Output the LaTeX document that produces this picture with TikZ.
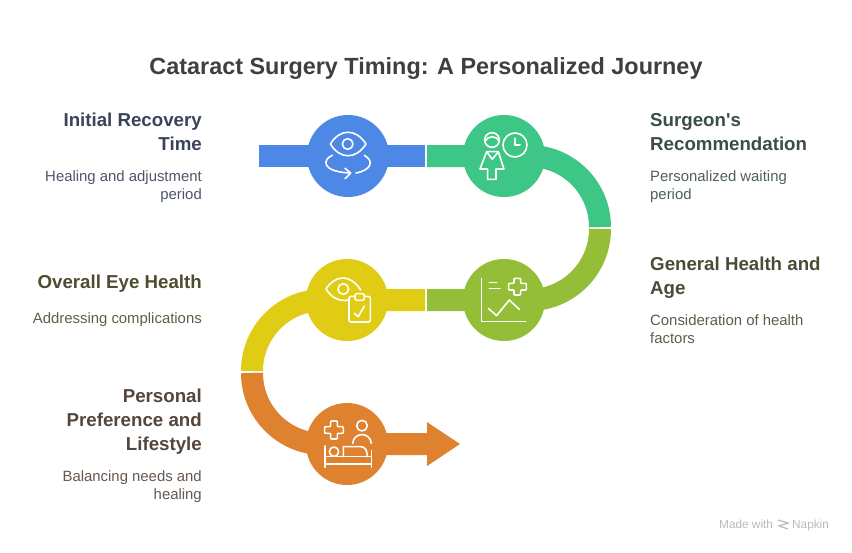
\documentclass[tikz,border=0pt]{standalone}
\usepackage{fontspec}
\setmainfont[Ligatures=TeXOff]{Liberation Sans}
\definecolor{cblue}{HTML}{4E88E7}
\definecolor{cgreen}{HTML}{3EC686}
\definecolor{colive}{HTML}{94BE38}
\definecolor{cyellow}{HTML}{E0CC14}
\definecolor{corange}{HTML}{DF8230}
\definecolor{hblue}{HTML}{3A4358}
\definecolor{hgreen}{HTML}{3A4E46}
\definecolor{holive}{HTML}{484E35}
\definecolor{hyellow}{HTML}{4F4C30}
\definecolor{horange}{HTML}{54463C}
\definecolor{ctitle}{HTML}{3F3F3F}
\tikzset{
  band/.style={line width=22pt,line cap=butt},
  disc/.style={circle,minimum size=82pt,inner sep=0pt,fill=#1},
  icon/.style={draw=white,line width=1.6pt,line cap=round,line join=round},
  hl/.style={font=\fontsize{18.7}{24}\selectfont\bfseries,inner sep=0pt},
  hr/.style={hl,align=right,anchor=base east},
  hle/.style={hl,align=left,anchor=base west},
  dl/.style={font=\fontsize{14.9}{18}\selectfont,inner sep=0pt},
  dr/.style={dl,align=right,anchor=base east},
  dle/.style={dl,align=left,anchor=base west}
}
\begin{document}
\begin{tikzpicture}[x=1pt,y=-1pt]
\useasboundingbox (0,0) rectangle (852,552);
\fill[white] (0,0) rectangle (852,552);
\node[inner sep=0pt,anchor=base,text=ctitle,font=\fontsize{23.4}{28}\selectfont\bfseries] (title) at (426,74) {Cataract Surgery Timing: A Personalized Journey};
% bands
\draw[band,cblue] (259,156) -- (425,156);
\draw[band,cgreen] (427,156) -- (529,156) .. controls (568.2,156) and (600,187.8) .. (600,227);
\draw[band,colive] (600,229) .. controls (600,268.2) and (568.2,300) .. (529,300) -- (427,300);
\draw[band,cyellow] (425,300) -- (323,300) .. controls (283.8,300) and (252,331.8) .. (252,371);
\draw[band,corange] (252,373) .. controls (252,412.2) and (283.8,444) .. (323,444) -- (428,444);
\fill[corange] (427,422) -- (460,444) -- (427,466) -- cycle;
% discs
\node[disc=cblue] (n1) at (348,156) {};
\node[disc=cgreen] (n2) at (504,156) {};
\node[disc=colive] (n3) at (504,300) {};
\node[disc=cyellow] (n4) at (347,300) {};
\node[disc=corange] (n5) at (347,444) {};
% icon 1: eye with rotation
\begin{scope}[shift={(250pt,-100pt)},x=0.3333pt,y=-0.3333pt]
\draw[icon] (241,132) .. controls (270,85) and (318,85) .. (348,132) .. controls (318,179) and (270,179) .. (241,132) -- cycle;
\draw[icon] (293,132) circle[radius=16];
\draw[icon] (247,166) .. controls (218,178) and (212,214) .. (298,219);
\draw[icon] (285,205) -- (302,219) -- (285,236);
\draw[icon] (343,166) .. controls (372,182) and (366,210) .. (318,219);
\end{scope}
% icon 2: surgeon and clock
\begin{scope}[shift={(250pt,-100pt)},x=0.3333pt,y=-0.3333pt]
\draw[icon] (726,120) circle[radius=22];
\draw[icon] (705,125) .. controls (715,105) and (738,105) .. (748,125);
\draw[icon] (710,155) -- (745,155) -- (762,207) -- (738,207) -- (738,238) -- (713,238) -- (713,207) -- (690,207) -- cycle;
\draw[icon] (710,155) -- (727,178) -- (745,155);
\draw[icon] (795,135) circle[radius=36];
\draw[icon] (795,115) -- (795,135) -- (810,135);
\end{scope}
% icon 3: chart and cross
\begin{scope}[shift={(230pt,-225pt)},x=0.3333pt,y=-0.3333pt]
\draw[icon] (755,160) -- (755,290) -- (887,290);
\draw[icon] (778,172) -- (800,172);
\draw[icon] (778,190) -- (810,190);
\draw[icon,rounded corners=0.8pt] (852,160) -- (872,160) -- (872,175) -- (889,175) -- (889,195) -- (872,195) -- (872,210) -- (852,210) -- (852,195) -- (836,195) -- (836,175) -- (852,175) -- cycle;
\draw[icon] (775,250) -- (800,272) -- (838,225) -- (868,253);
\end{scope}
% icon 4: eye and clipboard
\begin{scope}[shift={(230pt,-225pt)},x=0.3333pt,y=-0.3333pt]
\draw[icon] (392,195) .. controls (360,145) and (315,150) .. (288,192) .. controls (305,220) and (330,230) .. (355,225);
\draw[icon] (340,192) circle[radius=16];
\draw[icon,rounded corners=2pt] (375,214) -- (357,214) -- (357,291) -- (421,291) -- (421,214) -- (403,214);
\draw[icon,rounded corners=2pt] (375,206) rectangle (403,226);
\draw[icon] (373,265) -- (385,275) -- (403,243);
\end{scope}
% icon 5: bed, cross, person
\begin{scope}[shift={(230pt,-360pt)},x=0.3333pt,y=-0.3333pt]
\draw[icon,rounded corners=0.8pt] (302,183) -- (322,183) -- (322,200) -- (340,200) -- (340,220) -- (322,220) -- (322,237) -- (302,237) -- (302,220) -- (284,220) -- (284,200) -- (302,200) -- cycle;
\draw[icon] (396,197) circle[radius=16];
\draw[icon] (368,250) .. controls (372,215) and (420,215) .. (424,250);
\draw[icon] (285,258) -- (285,322);
\draw[icon] (424,272) -- (424,322);
\draw[icon] (285,312) -- (424,312);
\draw[icon] (285,290) -- (424,290);
\draw[icon] (312,275) circle[radius=14];
\draw[icon] (340,290) -- (340,260) -- (392,260) .. controls (405,260) and (412,270) .. (412,290);
\end{scope}
% texts left
\node[hr,text=hblue] (t1) at (202,150.5) {Initial Recovery\\Time};
\node[dr,text=hblue!90!white] (d1) at (202,199.5) {Healing and adjustment\\period};
\node[hr,text=hyellow] (t4) at (202,288) {Overall Eye Health};
\node[dr,text=hyellow!90!white] (d4) at (202,323) {Addressing complications};
\node[hr,text=horange] (t5) at (202,450.5) {Personal\\Preference and\\Lifestyle};
\node[dr,text=horange!90!white] (d5) at (202,499.5) {Balancing needs and\\healing};
% texts right
\node[hle,text=hgreen] (t2) at (650,150.5) {Surgeon's\\Recommendation};
\node[dle,text=hgreen!90!white] (d2) at (650,199.5) {Personalized waiting\\period};
\node[hle,text=holive] (t3) at (650,294.5) {General Health and\\Age};
\node[dle,text=holive!90!white] (d3) at (650,343.5) {Consideration of health\\factors};
% watermark
\node[inner sep=0pt,anchor=base west,text=black!27,font=\fontsize{11.8}{13}\selectfont] (m1) at (719,528) {Made with};
\node[inner sep=0pt,anchor=base west,text=black!27,font=\fontsize{11.8}{13}\selectfont] (m2) at (792,528) {Napkin};
\draw[black!27,line width=1.2pt] (778,520) -- (788,523) -- (779,526) -- (788,529);
\end{tikzpicture}
\end{document}
